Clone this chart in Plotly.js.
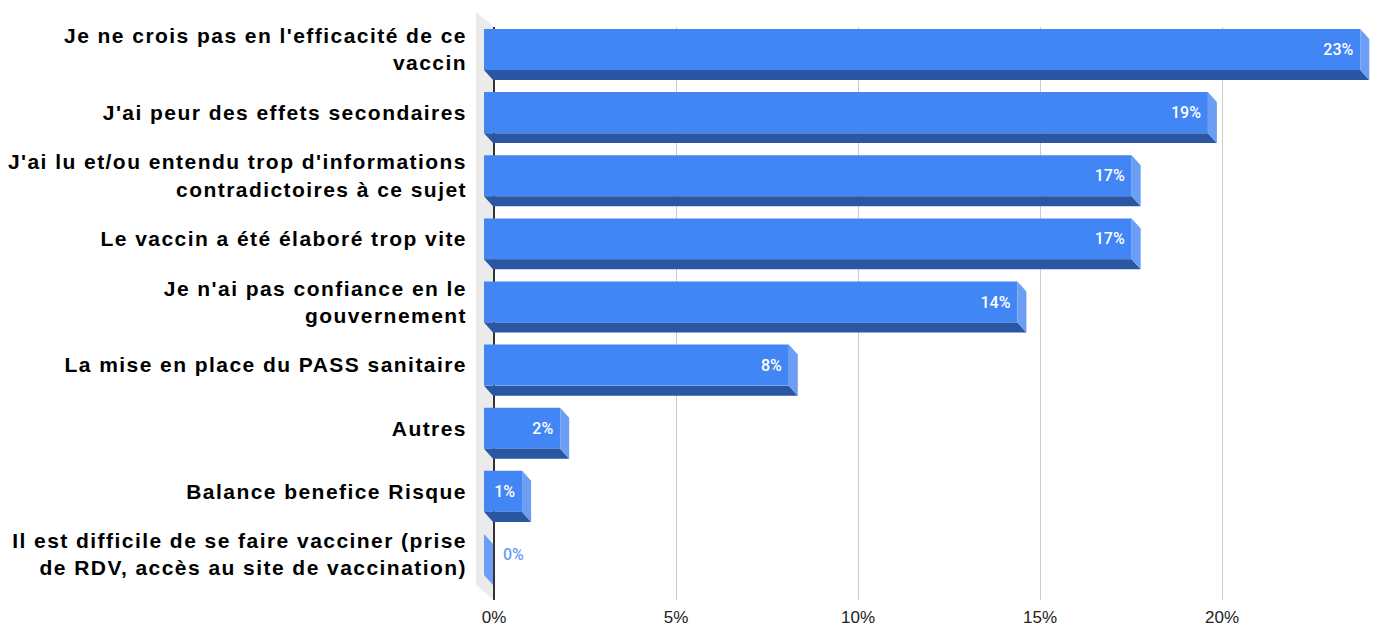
<!DOCTYPE html>
<html>
<head>
<meta charset="utf-8">
<script src="https://cdn.plot.ly/plotly-3.0.1.min.js"></script>
<style>
  html, body { margin: 0; padding: 0; background: #ffffff; }
  #chart { width: 1376px; height: 628px; }
  .ytick text { letter-spacing: 1.45px; }
</style>
</head>
<body>
<div id="chart"></div>
<script>
// ---- data ----
const categories = [
  "Je ne crois pas en l'efficacité de ce<br>vaccin",
  "J'ai peur des effets secondaires",
  "J'ai lu et/ou entendu trop d'informations<br>contradictoires à ce sujet",
  "Le vaccin a été élaboré trop vite",
  "Je n'ai pas confiance en le<br>gouvernement",
  "La mise en place du PASS sanitaire",
  "Autres",
  "Balance benefice Risque",
  "Il est difficile de se faire vacciner (prise<br>de RDV, accès au site de vaccination)"
];
const values = [23, 19, 17, 17, 14, 8, 2, 1, 0];
const tickVals = [0, 5, 10, 15, 20];
const tickText = ["0%", "5%", "10%", "15%", "20%"];

// ---- geometry (pixels) ----
const W = 1376, H = 628;
const mL = 476, mR = 0, mT = 27, mB = 28;
const plotLeft = mL, plotRight = W - mR, plotTop = mT, plotBottom = H - mB;
const barZeroPx = 484, barPxPerUnit = 38.1;     // front plane
const gridZeroPx = 494, gridPxPerUnit = 36.4;   // back plane
const rowPx = 63.125, row0CenterPx = 49.5;
const barFacePx = 41, depthXPx = 9, depthYPx = 10;

const xRange = [(plotLeft - barZeroPx) / barPxPerUnit, (plotRight - barZeroPx) / barPxPerUnit];
const x2Range = [(plotLeft - gridZeroPx) / gridPxPerUnit, (plotRight - gridZeroPx) / gridPxPerUnit];
const yRange = [(plotBottom - row0CenterPx) / rowPx, (plotTop - row0CenterPx) / rowPx];
const bw = barFacePx / rowPx;
const dX = depthXPx / barPxPerUnit;
const dY = depthYPx / rowPx;

const idx = values.map((v, i) => i);

// 3D faces computed from values
const bottomX = [], bottomY = [], sideX = [], sideY = [];
values.forEach((v, i) => {
  const top = i - bw / 2, bot = i + bw / 2;
  bottomX.push(0, v, v + dX, dX, 0, null);
  bottomY.push(bot, bot, bot + dY, bot + dY, bot, null);
  sideX.push(v, v + dX, v + dX, v, v, null);
  sideY.push(top, top + dY, bot + dY, bot, top, null);
});

const FRONT = "#4285F4", BOTTOM = "#2B57A2", SIDE = "#6C9EF5";

const traces = [
  {
    type: "scatter", x: bottomX, y: bottomY, mode: "lines", fill: "toself",
    fillcolor: BOTTOM, line: { width: 0, color: BOTTOM }, hoverinfo: "skip", showlegend: false
  },
  {
    type: "scatter", x: sideX, y: sideY, mode: "lines", fill: "toself",
    fillcolor: SIDE, line: { width: 0, color: SIDE }, hoverinfo: "skip", showlegend: false
  },
  {
    type: "bar", orientation: "h", x: values, y: idx, width: bw,
    marker: { color: FRONT, line: { width: 0 } },
    text: values.map(v => v > 0 ? v + "%\u00a0" : "\u00a0\u00a0\u00a0\u00a0" + v + "%"),
    textposition: values.map(v => v > 0 ? "inside" : "outside"),
    insidetextanchor: "end",
    constraintext: "none",
    cliponaxis: false,
    insidetextfont: { family: "Roboto", size: 16, color: "#ffffff", weight: 500 },
    outsidetextfont: { family: "Roboto", size: 16, color: SIDE, weight: 500 },
    hoverinfo: "skip", showlegend: false
  },
  {
    type: "scatter", x: [tickVals[0]], y: [idx[0]], xaxis: "x2", mode: "markers",
    marker: { opacity: 0 }, hoverinfo: "skip", showlegend: false
  }
];

// left grey wall (decoration) in paper coordinates
const pw = plotRight - plotLeft, ph = plotBottom - plotTop;
const px = p => (p - plotLeft) / pw;
const py = p => (plotBottom - p) / ph;
const wallFront = 476, wallBack = gridZeroPx, wallTopFront = 12, wallDrop = 15;
const wallPath = "M " + px(wallFront) + "," + py(wallTopFront) +
  " L " + px(wallBack) + "," + py(wallTopFront + wallDrop) +
  " L " + px(wallBack) + "," + py(plotBottom) +
  " L " + px(wallFront) + "," + py(plotBottom - wallDrop) + " Z";

const layout = {
  width: W, height: H,
  margin: { l: mL, r: mR, t: mT, b: mB, pad: 0 },
  paper_bgcolor: "#ffffff",
  plot_bgcolor: "rgba(0,0,0,0)",
  showlegend: false,
  hovermode: false,
  xaxis: {
    range: xRange, showgrid: false, zeroline: false, showticklabels: false,
    showline: false, ticks: "", fixedrange: true
  },
  xaxis2: {
    overlaying: "x", anchor: "y", side: "bottom", range: x2Range,
    tickmode: "array", tickvals: tickVals, ticktext: tickText,
    showgrid: true, gridcolor: "#cccccc", gridwidth: 1,
    zeroline: true, zerolinecolor: "#333333", zerolinewidth: 1.5,
    showline: false, ticks: "", ticklabelstandoff: 5,
    tickfont: { family: "Arial", size: 17, color: "#222222" }, fixedrange: true
  },
  yaxis: {
    range: yRange, tickmode: "array", tickvals: idx, ticktext: categories,
    showgrid: false, zeroline: false, showline: false, ticks: "",
    ticklabelstandoff: 8,
    tickfont: { family: "Arial", size: 21, color: "#000000", weight: "bold" },
    fixedrange: true
  },
  shapes: [
    {
      type: "path", xref: "paper", yref: "paper", path: wallPath,
      fillcolor: "#ebebeb", line: { width: 0 }, layer: "below"
    }
  ]
};

Plotly.newPlot("chart", traces, layout, { staticPlot: true, displayModeBar: false });
</script>
</body>
</html>
